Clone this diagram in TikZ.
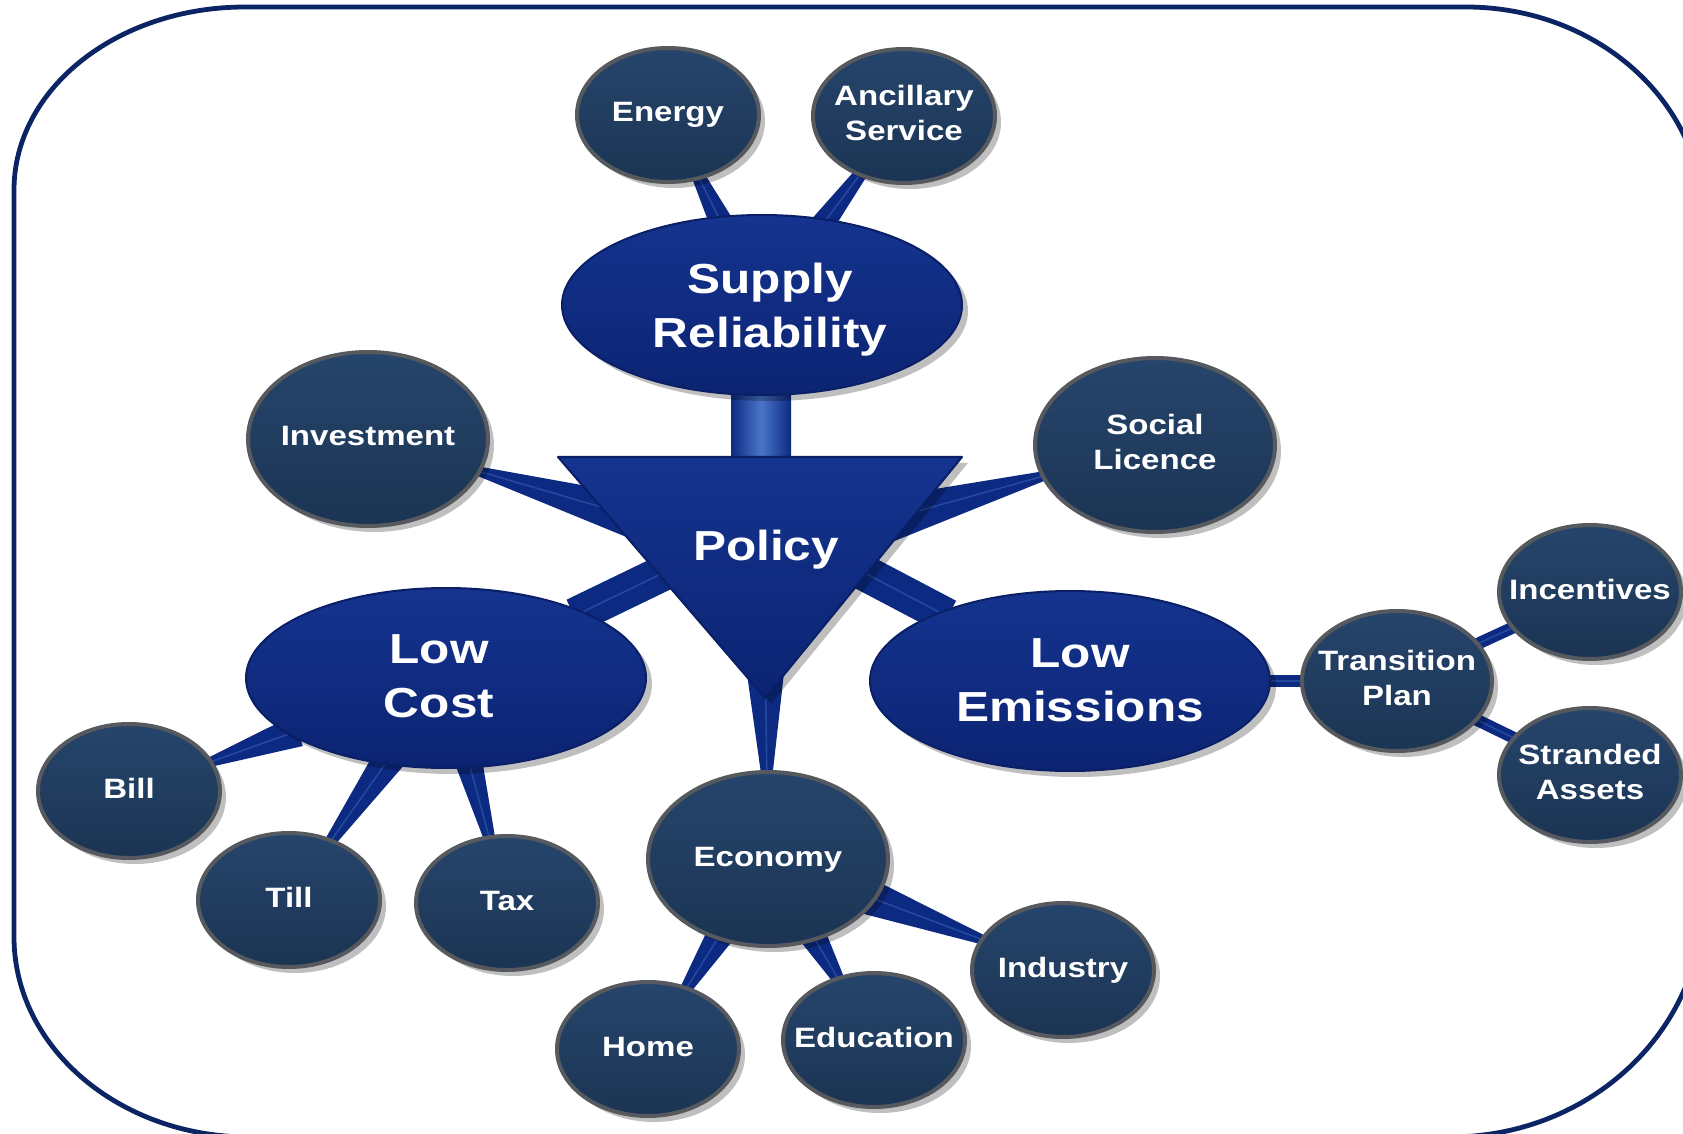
\documentclass[tikz,border=0pt]{standalone}
\usepackage{fontspec}
\newfontfamily\dfont{Liberation Sans Bold}[FakeStretch=1.18]
\usetikzlibrary{shapes.geometric,calc,shadows}
\pgfdeclarelayer{background}
\pgfsetlayers{background,main}
\definecolor{framec}{HTML}{0B2463}
\definecolor{majortop}{HTML}{15348F}
\definecolor{majorbot}{HTML}{0B2372}
\definecolor{majoredge}{HTML}{0A1F66}
\definecolor{leaftop}{HTML}{26456C}
\definecolor{leafbot}{HTML}{1B3453}
\definecolor{rim}{HTML}{56595D}
\definecolor{connc}{HTML}{0C2A82}
\definecolor{connhl}{HTML}{4A76C8}
\newcommand\tx[1]{\makebox[0pt]{\begin{tabular}{@{}c@{}}#1\end{tabular}}}
\newcommand\txs[3]{\makebox[0pt]{\hspace*{#1}\raisebox{#2}[0pt][0pt]{\begin{tabular}{@{}c@{}}#3\end{tabular}}}}
\newcommand\wedgeconn[4]{%
  \path (#1) -- (#2) coordinate[pos=0] (wA) coordinate[pos=1] (wB);
  \coordinate (wA2) at ($(wA)!-5pt!(wB)$);
  \coordinate (wB2) at ($(wB)!-5pt!(wA)$);
  \fill[connfill] ($(wA2)!#3!90:(wB2)$) -- ($(wB2)!#4!-90:(wA2)$) -- ($(wB2)!#4!90:(wA2)$) -- ($(wA2)!#3!-90:(wB2)$) -- cycle;
  \draw[connline] (wA2) -- (wB2);
}
\tikzset{
  connfill/.style={fill=connc},
  connline/.style={draw=connhl, line width=0.8pt, opacity=0.4},
  shadowed/.style={drop shadow={shadow xshift=3pt, shadow yshift=-3pt, opacity=0.25, fill=black}},
  leafnode/.style={ellipse, inner sep=0pt, draw=rim, line width=2pt,
    top color=leaftop, bottom color=leafbot, text=white,
    font=\dfont\fontsize{14}{17.5}\selectfont, shadowed},
  smallleaf/.style={leafnode, minimum width=91pt, minimum height=67pt},
  midleaf/.style={leafnode, minimum width=95pt, minimum height=70pt},
  bigleaf/.style={leafnode, minimum width=120pt, minimum height=87pt},
  majornode/.style={ellipse, inner sep=0pt, minimum width=200pt, minimum height=90pt,
    draw=majoredge, line width=1pt, top color=majortop, bottom color=majorbot,
    text=white, font=\dfont\fontsize{21}{27}\selectfont, shadowed},
  policytri/.style={top color=majortop, bottom color=majorbot, draw=majoredge,
    line width=1pt, line join=round, shadowed},
  trunk/.style={left color=connc, right color=connc, middle color=connhl},
  framepath/.style={draw=framec, line width=2.4pt}
}
\begin{document}
\begin{tikzpicture}[x=0.5pt, y=-0.5pt]
\useasboundingbox (0,0) rectangle (1683,1134);
% frame
\begin{scope}
\clip (0,0) rectangle (1683,1134);
\draw[framepath] (14,190) .. controls (14,89) and (117,7) .. (245,7)
  -- (1466,7) .. controls (1597,7) and (1703,102) .. (1703,218)
  -- (1703,900) .. controls (1703,1031) and (1590,1137) .. (1450,1137)
  -- (249,1137) .. controls (119,1137) and (14,1047) .. (14,937) -- cycle;
\end{scope}
% nodes
\node[majornode] (supply) at (762,305) {\txs{8pt}{-7.5pt}{Supply\\Reliability}};
\node[majornode] (lowcost) at (446,678) {\txs{-7pt}{-6pt}{Low\\Cost}};
\node[majornode] (lowem) at (1070,681) {\txs{10pt}{-6.5pt}{Low\\Emissions}};
\node[smallleaf] (energy) at (668,115) {\tx{Energy}};
\node[smallleaf] (ancillary) at (904,116) {\tx{Ancillary\\Service}};
\node[bigleaf] (invest) at (368,439) {\tx{Investment}};
\node[bigleaf] (social) at (1155,445) {\tx{Social\\Licence}};
\node[bigleaf] (economy) at (768,859) {\tx{Economy}};
\node[smallleaf] (bill) at (129,791) {\tx{Bill}};
\node[smallleaf] (till) at (289,900) {\tx{Till}};
\node[smallleaf] (tax) at (507,903) {\tx{Tax}};
\node[smallleaf] (home) at (648,1049) {\tx{Home}};
\node[smallleaf] (educ) at (874,1040) {\tx{Education}};
\node[smallleaf] (industry) at (1063,970) {\tx{Industry}};
\node[midleaf] (transition) at (1397,681) {\tx{Transition\\Plan}};
\node[smallleaf] (incent) at (1590,592) {\tx{Incentives}};
\node[smallleaf] (stranded) at (1590,775) {\tx{Stranded\\Assets}};
% policy triangle
\coordinate (ptl) at (558,457);
\coordinate (ptr) at (962,457);
\coordinate (ptip) at (765,698);
\coordinate (pInv) at (680,530);
\coordinate (pSoc) at (850,530);
\coordinate (pLC) at (690,560);
\coordinate (pLE) at (840,560);
\coordinate (pEco) at (765,640);
\filldraw[policytri] (ptl) -- (ptr) -- (ptip) -- cycle;
\node[text=white, font=\dfont\fontsize{21}{27}\selectfont] (policy) at (766,550) {Policy};
% connectors
\begin{pgfonlayer}{background}
\fill[trunk] ($(supply.south)+(-31,-8)$) rectangle ($(ptl)!0.5!(ptr)+(31,8)$);
\wedgeconn{energy}{supply}{3pt}{6pt}
\wedgeconn{ancillary}{supply}{3pt}{6pt}
\wedgeconn{invest}{pInv}{2pt}{14pt}
\wedgeconn{social}{pSoc}{2pt}{14pt}
\wedgeconn{lowcost}{pLC}{9pt}{9pt}
\wedgeconn{lowem}{pLE}{9pt}{9pt}
\wedgeconn{economy}{pEco}{2.5pt}{12pt}
\wedgeconn{bill}{lowcost}{2pt}{8pt}
\wedgeconn{till}{lowcost}{2.5pt}{8pt}
\wedgeconn{tax}{lowcost}{2.5pt}{7pt}
\wedgeconn{home}{economy}{2.5pt}{7pt}
\wedgeconn{educ}{economy}{2.5pt}{7pt}
\wedgeconn{industry}{economy}{2pt}{9pt}
\wedgeconn{transition}{lowem}{3pt}{3pt}
\wedgeconn{incent}{transition}{3pt}{3pt}
\wedgeconn{stranded}{transition}{3pt}{3pt}
\end{pgfonlayer}
\end{tikzpicture}
\end{document}
